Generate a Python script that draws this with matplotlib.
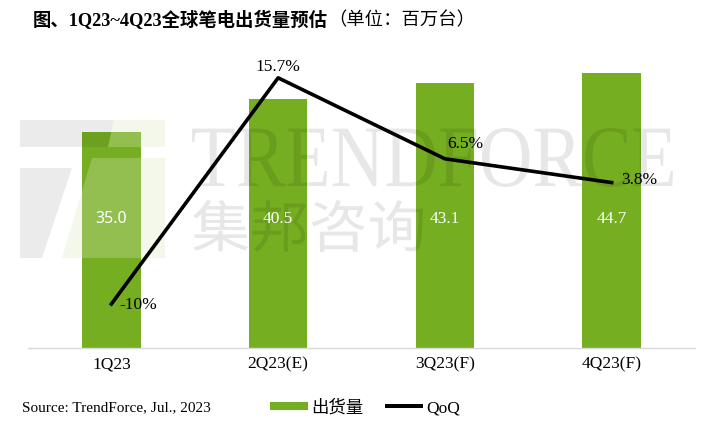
import matplotlib
matplotlib.use("Agg")
import matplotlib.pyplot as plt
from matplotlib.lines import Line2D
from matplotlib.patches import PathPatch, Polygon
from matplotlib.textpath import TextPath
from matplotlib.font_manager import FontProperties
from matplotlib.transforms import Affine2D

plt.rcParams['font.family'] = ['Liberation Serif', 'Noto Sans CJK SC']

# 数据
quarters = ['1Q23', '2Q23(E)', '3Q23(F)', '4Q23(F)']
shipments = [35.0, 40.5, 43.1, 44.7]
qoq = [-10, 15.7, 6.5, 3.8]
qoq_labels = ['-10%', '15.7%', '6.5%', '3.8%']

verde = '#76ae22'
W, H = 704, 428

fig = plt.figure(figsize=(W / 100, H / 100), dpi=100)
ax = fig.add_axes([28 / W, 80 / H, 667 / W, 308 / H])
x = range(len(quarters))

ax.bar(x, shipments, width=0.35, color=verde, zorder=2)
ax.set_ylim(0, 50)
ax.set_xlim(-0.5, len(quarters) - 0.5)
ax.set_xticks(list(x))
ax.set_xticklabels(quarters, fontsize=12.5)
ax.tick_params(axis='x', length=0, pad=6)
ax.set_yticks([])
for s in ['top', 'left', 'right']:
    ax.spines[s].set_visible(False)
ax.spines['bottom'].set_color('#d9d9d9')
ax.spines['bottom'].set_linewidth(1)

# 柱内数值
for i, v in enumerate(shipments):
    fam = ['Noto Sans'] if i == 0 else ['Liberation Serif']
    ax.text(i, 21, f'{v:.1f}', ha='center', va='center', color='white',
            fontsize=12.5 if i else 11.5, family=fam, zorder=5)


# 水印（放在柱子之上、折线之下）
def marca_texto(s, fam, weight, x0, x1, ytop, ybot):
    tp = TextPath((0, 0), s, size=1, prop=FontProperties(family=fam, weight=weight))
    ext = tp.get_extents()
    sx = (x1 - x0) / ext.width / 100
    sy = (ybot - ytop) / ext.height / 100
    tr = (Affine2D().translate(-ext.x0, -ext.y0).scale(sx, sy)
          .translate(x0 / 100, (H - ybot) / 100) + fig.dpi_scale_trans)
    ax.add_patch(PathPatch(tp, transform=tr, fc='black', ec='none',
                           alpha=0.095, zorder=3, clip_on=False))


def marca_poly(pts, cor, alpha):
    pts = [(px / 100, (H - py) / 100) for px, py in pts]
    ax.add_patch(Polygon(pts, closed=True, transform=fig.dpi_scale_trans,
                         fc=cor, ec='none', alpha=alpha, zorder=3, clip_on=False))


marca_texto('TRENDFORCE', 'Liberation Serif', 'normal', 192, 673, 128, 187)
marca_texto('集邦咨询', 'Noto Sans CJK SC', 'light', 193, 423, 200, 252)
marca_poly([(20, 120), (114, 120), (108, 147), (20, 147)], 'black', 0.08)
marca_poly([(20, 168), (72, 168), (42, 258), (20, 258)], 'black', 0.08)
marca_poly([(114, 120), (165, 120), (165, 147), (108, 147)], '#d8e9c0', 0.3)
marca_poly([(92, 158), (165, 158), (165, 258), (62, 258)], '#d8e9c0', 0.3)

# QoQ 折线
ax2 = ax.twinx()
ax2.set_ylim(-15, 20)
ax2.plot(list(x), qoq, color='black', lw=2.6, zorder=4)
ax2.set_yticks([])
for s in ['top', 'left', 'right', 'bottom']:
    ax2.spines[s].set_visible(False)

offsets = [(6, -1, 'left'), (0, 7.5, 'center'), (2, 11, 'left'), (7, 2, 'left')]
for i, (v, lab) in enumerate(zip(qoq, qoq_labels)):
    dx, dy, ha = offsets[i]
    ax2.annotate(lab, (i, v), xytext=(dx, dy), textcoords='offset points',
                 ha=ha, va='center', fontsize=12.5, color='black', zorder=6)

# 标题
t1 = fig.text(33 / W, 1 - 20 / H, '图、1Q23~4Q23全球笔电出货量预估',
              fontsize=13.2, fontweight='bold', va='center', ha='left')
ax.annotate('（单位：百万台）', xy=(1, 0), xycoords=t1, va='bottom', ha='left',
            fontsize=13.2, annotation_clip=False)

# 来源与图例
fig.text(22 / W, 1 - 408 / H, 'Source: TrendForce, Jul., 2023',
         fontsize=11, va='center', ha='left')
handles = [Line2D([], [], color=verde, lw=5.8, solid_capstyle='butt'),
           Line2D([], [], color='black', lw=2.9, solid_capstyle='butt')]
fig.legend(handles, ['出货量', 'QoQ'], ncol=2, loc='center left',
           bbox_to_anchor=(270 / W, 1 - 408 / H), frameon=False, borderpad=0,
           borderaxespad=0, handlelength=2.2, handletextpad=0.2,
           columnspacing=1.2, fontsize=12.5)

fig.savefig('out.png', dpi=100)
